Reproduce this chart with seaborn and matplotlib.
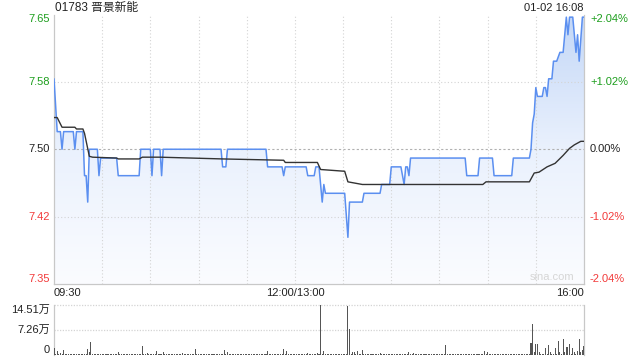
import numpy as np
import pandas as pd
import matplotlib
matplotlib.use("Agg")
import matplotlib.pyplot as plt
from matplotlib.colors import LinearSegmentedColormap
import matplotlib.transforms as mtransforms
import seaborn as sns

# ---------------- data ----------------
title = "01783 晋景新能"
stamp = "01-02 16:08"
prev_close = 7.50
y_ticks = [7.653, 7.5765, 7.50, 7.4235, 7.347]
y_labels = ["7.65", "7.58", "7.50", "7.42", "7.35"]
pct_labels = ["+2.04%", "+1.02%", "0.00%", "-1.02%", "-2.04%"]
x_ticks = [0, 150, 330]
x_labels = ["09:30", "12:00/13:00", "16:00"]
grid_minutes = [30, 60, 90, 120, 150, 180, 210, 240, 270, 300]
vol_ticks = [0, 7.26, 14.51]
vol_labels = ["0", "7.26万", "14.51万"]

# price (trading minutes since 09:30, price)
price_min = [0, 2, 4, 5, 6, 12, 13, 14, 18, 19, 20, 21, 22, 27, 28, 29, 39, 40, 53, 54,
             60, 61, 62, 66, 67, 68, 104, 105, 107, 108, 132, 133, 142, 143, 144, 157, 158,
             162, 163, 165, 167, 168, 169, 181, 183, 184, 192, 193, 203, 204, 209, 210,
             216, 218, 219, 220, 221, 222, 256, 257, 264, 265, 273, 274, 285, 286, 296,
             297, 298, 299, 300, 301, 304, 305, 306, 307, 308, 310, 311, 313, 315, 317,
             319, 320, 321, 323, 324, 325, 326, 327, 329, 330]
price_val = [7.58, 7.52, 7.52, 7.50, 7.52, 7.52, 7.50, 7.52, 7.52, 7.47, 7.47, 7.44, 7.50,
             7.50, 7.47, 7.49, 7.49, 7.47, 7.47, 7.50,
             7.50, 7.47, 7.50, 7.50, 7.47, 7.50, 7.50, 7.48, 7.48, 7.50, 7.50, 7.48, 7.48,
             7.47, 7.48, 7.48, 7.47,
             7.47, 7.48, 7.48, 7.44, 7.46, 7.45, 7.45, 7.40, 7.44, 7.44, 7.45, 7.45, 7.46,
             7.46, 7.48,
             7.48, 7.46, 7.48, 7.48, 7.47, 7.49, 7.49, 7.47, 7.47, 7.49, 7.49, 7.47, 7.47,
             7.49, 7.49,
             7.50, 7.53, 7.54, 7.57, 7.56, 7.56, 7.57, 7.57, 7.56, 7.58, 7.58, 7.60, 7.60,
             7.61, 7.61,
             7.65, 7.63, 7.65, 7.65, 7.63, 7.61, 7.63, 7.60, 7.65, 7.65]

# average price line
avg_min = [0, 2, 5, 13, 14, 18, 19, 22, 24, 39, 40, 53, 55, 66, 105, 143, 144, 164, 166,
           181, 183, 192, 267, 269, 296, 299, 302, 307, 312, 317, 321, 324, 328, 330]
avg_val = [7.536, 7.536, 7.525, 7.525, 7.523, 7.523, 7.518, 7.492, 7.491, 7.490, 7.489,
           7.489, 7.491, 7.491, 7.489, 7.4875, 7.485, 7.485, 7.477, 7.475, 7.463, 7.460,
           7.460, 7.463, 7.463, 7.473, 7.474, 7.480, 7.484, 7.493, 7.501, 7.505, 7.509, 7.509]

# volume per minute (万), rows of 30 minutes
vol_r0 = [2.0, 0.3, 1.2, 0.3, 0.6, 0.3, 1.5, 0.3, 0.3, 0.3, 0.3, 0.3, 0.3, 0.3, 0.3,
          0.3, 0.3, 0.3, 0.3, 0.3, 0.3, 1.7, 0.9, 3.8, 0.3, 0.3, 0.3, 0.3, 0.3, 0.3]
vol_r1 = [0.3, 0.3, 0.3, 0.3, 0.3, 0.3, 0.3, 0.3, 0.3, 0.3, 0.9, 0.3, 0.3, 0.3, 0.3,
          0.3, 0.3, 0.3, 0.3, 0.3, 0.3, 0.3, 0.3, 0.3, 0.3, 2.6, 0.3, 0.3, 0.6, 0.3]
vol_r2 = [0.3, 0.3, 0.3, 0.3, 1.2, 0.3, 0.3, 0.3, 0.9, 0.3, 0.3, 0.3, 0.3, 0.3, 0.3,
          0.3, 0.3, 0.3, 0.3, 0.3, 0.6, 0.3, 0.3, 0.3, 0.3, 0.3, 0.3, 0.3, 1.7, 0.3]
vol_r3 = [0.3, 0.3, 0.3, 0.3, 0.3, 0.3, 0.3, 0.3, 0.3, 0.3, 0.3, 0.3, 0.3, 0.3, 0.3,
          0.3, 1.5, 0.3, 0.9, 0.3, 0.3, 0.3, 0.3, 0.3, 0.3, 0.3, 0.3, 0.3, 0.3, 0.3]
vol_r4 = [0.3, 0.3, 0.3, 0.3, 0.3, 0.3, 0.3, 0.3, 0.3, 0.3, 0.3, 0.3, 0.3, 1.2, 0.3,
          0.3, 0.3, 0.3, 0.3, 0.3, 0.3, 0.3, 0.3, 1.7, 0.3, 1.2, 0.3, 0.3, 0.3, 0.3]
vol_r5 = [0.3, 0.3, 0.3, 0.3, 0.3, 0.3, 0.3, 0.3, 0.6, 0.3, 0.3, 0.3, 0.3, 0.3, 0.6,
          0.3, 14.51, 0.3, 1.2, 0.3, 0.3, 0.3, 0.3, 0.3, 0.3, 0.3, 0.3, 0.3, 0.3, 0.3]
vol_r6 = [0.3, 0.3, 0.3, 14.2, 7.5, 0.3, 1.0, 0.9, 0.3, 1.2, 0.3, 0.3, 1.5, 0.3, 0.3,
          0.3, 0.3, 0.3, 0.3, 0.3, 0.3, 0.3, 0.3, 0.6, 0.3, 0.3, 0.3, 0.3, 0.3, 0.3]
vol_r7 = [0.3, 0.3, 0.3, 0.3, 0.3, 0.3, 0.3, 0.3, 0.3, 0.3, 0.3, 0.8, 0.3, 0.3, 0.6,
          0.3, 0.3, 0.3, 0.3, 0.3, 0.3, 0.3, 0.3, 0.3, 0.3, 0.3, 0.3, 0.3, 0.3, 0.3]
vol_r8 = [0.3, 0.3, 0.3, 0.3, 2.9, 0.3, 0.3, 0.3, 0.3, 0.3, 0.3, 0.3, 0.3, 0.3, 0.3,
          0.3, 0.3, 0.3, 0.3, 0.3, 0.3, 0.3, 0.3, 0.3, 0.3, 0.3, 0.3, 0.3, 1.2, 0.3]
vol_r9 = [0.9, 0.3, 0.3, 0.3, 0.3, 0.3, 0.3, 0.3, 0.3, 0.3, 0.3, 0.3, 0.3, 0.3, 0.3,
          0.3, 0.3, 0.3, 0.3, 0.3, 0.3, 0.3, 0.3, 0.3, 0.3, 0.3, 0.3, 3.5, 9.0, 0.9]
vol_r10 = [3.2, 3.2, 0.9, 0.3, 0.3, 0.3, 2.0, 0.3, 2.9, 0.9, 0.3, 0.3, 2.0, 0.3, 4.0,
           0.9, 0.3, 4.6, 0.9, 2.3, 2.3, 3.2, 0.3, 2.0, 0.9, 0.3, 1.2, 4.6, 0.9, 1.5, 2.6]

# ---------------- style ----------------
sns.set_theme(style="white")
plt.rcParams["font.family"] = ["Liberation Sans", "Noto Sans CJK SC", "DejaVu Sans"]

GREEN = "#1d9e1d"
RED = "#f23a3a"
BLACK = "#222222"
BLUE = "#5b8ff0"
GRID = "#d4d4d4"
SPINE = "#c8c8c8"

fig = plt.figure(figsize=(6.4, 3.6), dpi=100)
ax = fig.add_axes([54 / 640, 1 - 284 / 360, 530 / 640, (284 - 14.5) / 360])
axv = fig.add_axes([54 / 640, 1 - 355 / 360, 530 / 640, 50 / 360])

ymin, ymax = y_ticks[-1], y_ticks[0]

price_df = pd.DataFrame({"minute": price_min, "price": price_val})
avg_df = pd.DataFrame({"minute": avg_min, "avg": avg_val})

# gradient fill under the price line
poly = ax.fill_between(price_df["minute"], price_df["price"], ymin, color="none", linewidth=0)
grad = np.linspace(1, 0, 256).reshape(-1, 1)
cmap = LinearSegmentedColormap.from_list("fill", ["#fbfcff", "#eaf1fd", "#c3d7f7"])
im = ax.imshow(grad, cmap=cmap, vmin=0, vmax=1, extent=[0, 330, ymin, ymax],
               aspect="auto", origin="upper", zorder=0.2, interpolation="bilinear")
im.set_clip_path(poly.get_paths()[0], transform=ax.transData)

# grid
for m in grid_minutes:
    ax.axvline(m, color=GRID, lw=0.8, ls=(0, (1, 2)), zorder=0.5)
for yv in (y_ticks[1], y_ticks[3]):
    ax.axhline(yv, color=GRID, lw=0.8, ls=(0, (1, 2)), zorder=0.5)
ax.axhline(prev_close, color="#b0b0b0", lw=0.8, ls=(0, (2, 2)), zorder=0.5)

sns.lineplot(data=price_df, x="minute", y="price", ax=ax, color=BLUE, lw=1.1, zorder=3)
sns.lineplot(data=avg_df, x="minute", y="avg", ax=ax, color="#333333", lw=1.0, zorder=4)

ax.set_xlim(0, 330)
ax.set_ylim(ymin, ymax)
ax.set_xlabel("")
ax.set_ylabel("")

for s in ("top",):
    ax.spines[s].set_visible(False)
for s in ("left", "right", "bottom"):
    ax.spines[s].set_color(SPINE)
    ax.spines[s].set_linewidth(0.9)

ax.set_yticks(y_ticks)
ax.set_yticklabels(y_labels)
ycols = [GREEN, GREEN, BLACK, RED, RED]
yvas = ["top", "center", "center", "center", "bottom"]
for lbl, c, va in zip(ax.get_yticklabels(), ycols, yvas):
    lbl.set_color(c)
    lbl.set_verticalalignment(va)
ax.tick_params(axis="y", length=0, pad=3, labelsize=8)

trans = mtransforms.blended_transform_factory(ax.transAxes, ax.transData)
for yv, t, c, va in zip(y_ticks, pct_labels, ycols, yvas):
    ax.text(1 + 6 / 530, yv, t, color=c, fontsize=8, ha="left", va=va, transform=trans)

ax.set_xticks(x_ticks)
ax.set_xticklabels(x_labels)
for lbl, ha in zip(ax.get_xticklabels(), ["left", "center", "right"]):
    lbl.set_horizontalalignment(ha)
ax.tick_params(axis="x", length=0, pad=3, labelsize=8, labelcolor=BLACK)

ax.text(0.981, 0.008, "sina.com", transform=ax.transAxes, ha="right", va="bottom",
        fontsize=8, color="#d6d6d6")

fig.text(55 / 640, 1 - 8 / 360, title, ha="left", va="center", fontsize=8.5, color=BLACK)
fig.text(584 / 640, 1 - 8 / 360, stamp, ha="right", va="center", fontsize=8, color=BLACK)

# volume
vols = vol_r0 + vol_r1 + vol_r2 + vol_r3 + vol_r4 + vol_r5 + vol_r6 + vol_r7 + vol_r8 + vol_r9 + vol_r10
vol_min = list(range(len(vols)))
axv.bar(vol_min, vols, width=0.65, color="#555555", linewidth=0, zorder=3)
axv.set_xlim(0, 330)
axv.set_ylim(0, vol_ticks[-1])
for yv in vol_ticks[1:]:
    axv.axhline(yv, color=GRID, lw=0.9, ls=(0, (1, 1.2)), zorder=1, clip_on=False)
for s in ("top", "bottom"):
    axv.spines[s].set_visible(False)
for s in ("left", "right"):
    axv.spines[s].set_color(SPINE)
    axv.spines[s].set_linewidth(0.9)
axv.set_xticks([])
axv.set_yticks(vol_ticks)
axv.set_yticklabels(vol_labels)
for lbl, va in zip(axv.get_yticklabels(), ["bottom", "center", "top"]):
    lbl.set_verticalalignment(va)
axv.tick_params(axis="y", length=0, pad=3, labelsize=8, labelcolor=BLACK)

fig.savefig("out.png", dpi=100)
